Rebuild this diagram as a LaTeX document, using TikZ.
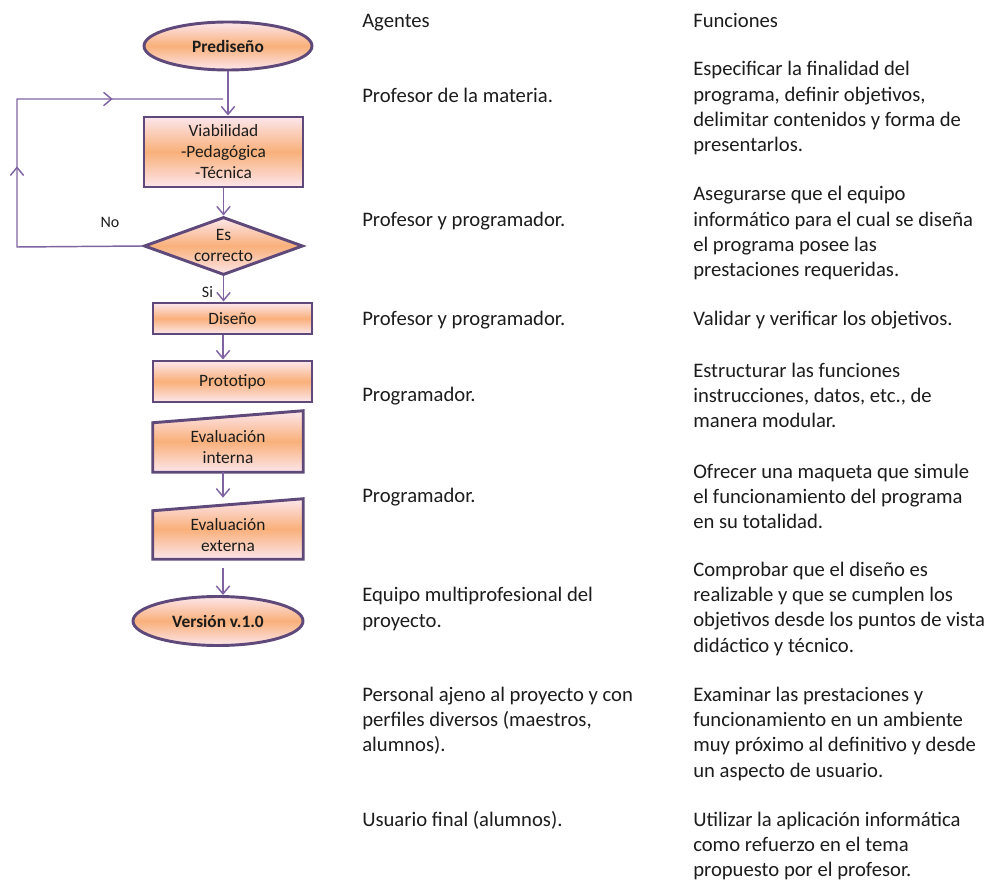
\documentclass[tikz,border=0pt]{standalone}
\usepackage{fontspec}
\setmainfont{Carlito}
\usetikzlibrary{
  positioning,
  shapes.geometric,
  arrows.meta,
  calc,
  backgrounds,
  decorations.markings
}

\definecolor{boxline}{HTML}{5F497A}
\definecolor{flowline}{HTML}{8064A2}
\definecolor{fillpink}{HTML}{FCE6EC}
\definecolor{fillorange}{HTML}{F9B07A}
\definecolor{bodytext}{HTML}{1C1C1C}

\begin{document}
\begin{tikzpicture}[x=0.75pt, y=-0.75pt,
  every node/.style={font=\fontsize{15.5}{19}\selectfont, text=bodytext},
  shaded/.style={draw=boxline, line width=2.2pt, top color=fillpink, bottom color=fillpink, middle color=fillorange},
  stage/.style={shaded, minimum width=119.25pt, inner sep=0pt, align=center, font=\fontsize{13}{15.75}\selectfont},
  terminal/.style={stage, ellipse, font=\fontsize{13}{15.75}\selectfont\bfseries},
  decision/.style={stage, diamond, aspect=2.7},
  inputbox/.style={minimum width=112.5pt, inner sep=0pt, align=center, font=\fontsize{13}{15.75}\selectfont},
  arrow/.style={draw=flowline, line width=1.1pt, -{Straight Barb[length=6pt,width=10pt]}},
  loopline/.style={draw=flowline, line width=1.1pt, postaction=decorate,
    decoration={markings,
      mark=at position 0.43 with {\arrow{Straight Barb[length=6pt,width=10pt]}},
      mark=at position 0.77 with {\arrow{Straight Barb[length=6pt,width=10pt]}}}},
  tag/.style={font=\fontsize{12}{14}\selectfont},
  column/.style={anchor=base west, align=left, inner sep=0pt}
]
\useasboundingbox (0,0) rectangle (992,880);

% Flowchart
\node[terminal, minimum width=126pt, minimum height=36pt] (prediseno) at (228,46) {Prediseño};
\node[stage, minimum height=52.5pt] (viab) at (223.5,152) {Viabilidad\\-Pedagógica\\-Técnica};
\node[decision, minimum height=43.5pt] (check) at (223.5,246) {Es\\correcto};
\node[stage, minimum height=23.25pt] (diseno) at (232.5,318.5) {Diseño};
\node[stage, minimum height=30.75pt] (proto) at (232.5,381.5) {Prototipo};
\node[inputbox, minimum height=36.75pt] (evalint) at (228,447.5) {Evaluación\\interna};
\node[inputbox, minimum height=36pt] (evalext) at (228,535) {Evaluación\\externa};
\node[terminal, minimum width=127.5pt, minimum height=36.75pt] (version) at (218,621) {Versión v.1.0};

% Slanted tops of the evaluation boxes
\begin{scope}[on background layer]
\path[shaded] (evalint.south west) -- (evalint.south east) -- ([yshift=9pt]evalint.north east) -- (evalint.north west) -- cycle;
\path[shaded] (evalext.south west) -- (evalext.south east) -- ([yshift=9pt]evalext.north east) -- (evalext.north west) -- cycle;
\end{scope}

\coordinate (axis) at (223,0);
\coordinate (backlow) at (17,247);
\coordinate (backtop) at (17,99);
\coordinate (backend) at (223,99);

\node[tag] (no) at (110,222) {No};
\node[tag] (si) at (207.5,292) {Si};

% Arrows
\draw[arrow] (prediseno.south) -- (prediseno.south |- viab.north);
\draw[arrow] (viab.south) -- (check.north);
\draw[arrow] (check.south) -- (check.south |- diseno.north);
\draw[arrow] (diseno.south -| axis) -- (proto.north -| axis);
\draw[arrow, shorten >=9.75pt] (evalint.south -| axis) -- (evalext.north -| axis);
\draw[arrow, shorten <=6.75pt] (evalext.south -| axis) -- (version.north -| axis);
\path[loopline] (check.west) -- (backlow) -- (backtop) -- (backend);

% Agents and tasks (base = last line)
\node[column] (agHead) at (362,28) {Agentes};
\node[column] (fnHead) at (693,28) {Funciones};

\node[column] (ag1) at (362,103) {Profesor de la materia.};
\node[column] (fn1) at (693,152) {Especificar la finalidad del\\programa, definir objetivos,\\delimitar contenidos y forma de\\presentarlos.};

\node[column] (ag2) at (362,227) {Profesor y programador.};
\node[column] (fn2) at (693,277) {Asegurarse que el equipo\\informático para el cual se diseña\\el programa posee las\\prestaciones requeridas.};

\node[column] (ag3) at (362,326) {Profesor y programador.};
\node[column] (fn3) at (693,326) {Validar y verificar los objetivos.};

\node[column] (ag4) at (362,402) {Programador.};
\node[column] (fn4) at (693,427.7) {Estructurar las funciones\\instrucciones, datos, etc., de\\manera modular.};

\node[column] (ag5) at (362,502) {Programador.};
\node[column] (fn5) at (693,528.7) {Ofrecer una maqueta que simule\\el funcionamiento del programa\\en su totalidad.};

\node[column] (ag6) at (362,627.3) {Equipo multiprofesional del\\proyecto.};
\node[column] (fn6) at (693,652) {Comprobar que el diseño es\\realizable y que se cumplen los\\objetivos desde los puntos de vista\\didáctico y técnico.};

\node[column] (ag7) at (362,751.7) {Personal ajeno al proyecto y con\\perfiles diversos (maestros,\\alumnos).};
\node[column] (fn7) at (693,777) {Examinar las prestaciones y\\funcionamiento en un ambiente\\muy próximo al definitivo y desde\\un aspecto de usuario.};

\node[column] (ag8) at (362,826) {Usuario final (alumnos).};
\node[column] (fn8) at (693,876.7) {Utilizar la aplicación informática\\como refuerzo en el tema\\propuesto por el profesor.};

\end{tikzpicture}
\end{document}
